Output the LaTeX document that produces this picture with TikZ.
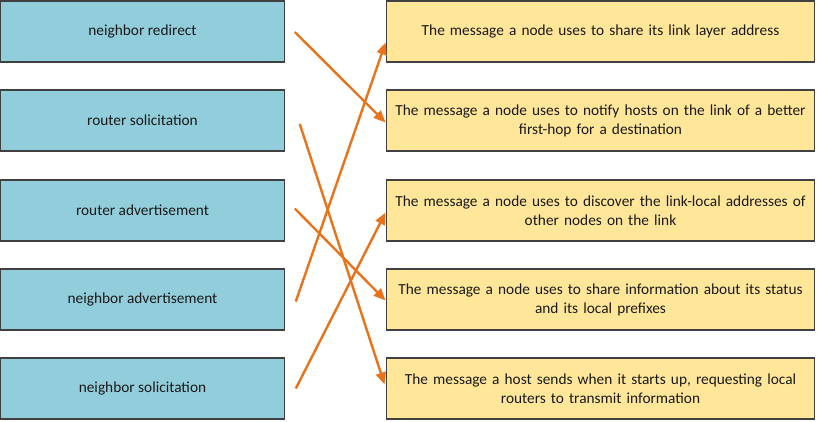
\documentclass[tikz,border=0pt]{standalone}
\usepackage{fontspec}
\setmainfont{Carlito}
\usetikzlibrary{arrows.meta,calc}
\definecolor{bluefill}{HTML}{92CDDC}
\definecolor{yelfill}{HTML}{FFE699}
\definecolor{boxline}{HTML}{404040}
\definecolor{arr}{HTML}{E8731A}
\hyphenpenalty=10000
\exhyphenpenalty=10000
\begin{document}
\begin{tikzpicture}[x=0.75pt,y=-0.75pt,
  lbox/.style={draw=boxline,line width=0.9pt,fill=bluefill,minimum width=212.5pt,minimum height=45.75pt,inner sep=0pt,font=\fontsize{11.5}{14.3}\selectfont,text=black!90},
  rbox/.style={draw=boxline,line width=0.9pt,fill=yelfill,minimum width=321.5pt,minimum height=45.75pt,inner sep=0pt,text width=320pt,align=center,font=\fontsize{11.5}{14.3}\selectfont,text=black!90},
  conn/.style={draw=arr,line width=1.8pt,-{Triangle[length=9pt,width=7.5pt]}}]
\useasboundingbox (0,0) rectangle (817,421);
\node[lbox] (l1) at (142.5,31.5) {neighbor redirect};
\node[lbox] (l2) at (142.5,120.5) {router solicitation};
\node[lbox] (l3) at (142.5,210.5) {router advertisement};
\node[lbox] (l4) at (142.5,299.5) {neighbor advertisement};
\node[lbox] (l5) at (142.5,388.5) {neighbor solicitation};
\node[rbox] (r1) at (600.5,31.5) {The message a node uses to share its link layer address};
\node[rbox] (r2) at (600.5,120.5) {The message a node uses to notify hosts on the link of a better\\first-hop for a destination};
\node[rbox] (r3) at (600.5,210.5) {The message a node uses to discover the link-local addresses of\\other nodes on the link};
\node[rbox] (r4) at (600.5,299.5) {The message a node uses to share information about its status\\and its local prefixes};
\node[rbox] (r5) at (600.5,388.5) {The message a host sends when it starts up, requesting local\\routers to transmit information};
\coordinate (s1) at ($(l1.east)+(10,0.5)$);
\coordinate (s2) at ($(l2.east)+(15,3.5)$);
\coordinate (s3) at ($(l3.east)+(10,-2)$);
\coordinate (s4) at ($(l4.east)+(11,2)$);
\coordinate (s5) at ($(l5.east)+(11,0)$);
\coordinate (e1) at ($(r1.west)+(0,11)$);
\coordinate (e2) at ($(r2.west)+(0,2)$);
\coordinate (e3) at ($(r3.west)+(0,2)$);
\coordinate (e4) at ($(r4.west)+(0,1)$);
\coordinate (e5) at ($(r5.west)+(-1,-4)$);
\draw[conn] (s1) -- (e2);
\draw[conn] (s2) -- (e5);
\draw[conn] (s3) -- (e4);
\draw[conn] (s4) -- (e1);
\draw[conn] (s5) -- (e3);
\end{tikzpicture}
\end{document}
